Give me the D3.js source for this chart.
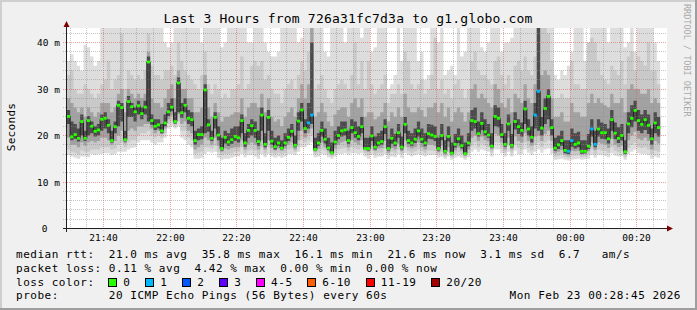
<!DOCTYPE html>
<html><head><meta charset="utf-8">
<script src="https://cdn.jsdelivr.net/npm/d3@7"></script>
<style>
html,body{margin:0;padding:0;background:#f0f0f0;overflow:hidden;}
svg{display:block;}
text{font-family:"DejaVu Sans Mono",monospace;white-space:pre;}
</style></head><body>
<script>
// ---------------- data ----------------
const titleText = "Last 3 Hours from 726a31fc7d3a to g1.globo.com";
const startTime = Date.UTC(2026,1,22,21,28,45);
const endTime   = Date.UTC(2026,1,23,0,28,45);
const firstSample = Date.UTC(2026,1,22,21,29,0);
const stepMs = 60000;
const yTickValues = [0,10,20,30,40];

// median rtt per sample (ms)
const median = [
24.1,19.7,20.2,19.4,23.0,19.4,23.2,22.0,20.9,21.2,
23.5,23.7,22.2,18.9,21.9,26.5,26.0,19.1,27.3,26.2,
25.1,26.4,24.7,26.1,35.8,23.2,22.0,22.3,21.0,22.7,
25.1,26.1,23.0,31.3,24.9,26.5,23.7,23.4,18.9,20.2,
20.2,29.8,22.3,19.4,23.9,20.1,17.2,19.6,18.6,19.1,
19.8,19.5,23.2,18.4,21.1,22.1,21.1,18.7,24.4,18.1,
23.9,18.8,17.6,18.4,17.3,18.4,19.6,20.9,17.9,23.1,
25.5,21.5,22.7,24.4,17.0,18.4,21.1,19.2,17.3,16.3,
18.6,20.0,21.0,21.2,18.9,21.7,20.6,19.8,21.9,17.2,
17.2,19.9,17.5,18.4,18.7,21.9,17.2,19.4,18.4,20.6,
17.5,22.4,18.9,18.4,19.2,21.0,19.2,18.4,20.4,20.1,
19.8,17.2,20.0,16.6,19.8,16.2,18.1,19.3,17.8,16.1,
18.4,23.2,23.0,20.4,22.6,20.8,20.1,17.7,24.1,23.7,
20.2,18.1,22.5,17.9,23.0,21.9,21.1,25.7,21.4,19.6,
24.4,29.5,21.6,25.8,28.4,21.7,17.3,18.0,18.9,16.8,
16.6,18.9,18.1,18.4,16.6,16.6,17.7,21.4,18.1,21.4,
20.6,20.6,19.3,23.4,20.5,19.4,20.0,16.5,22.5,23.7,
25.4,23.2,22.4,23.4,22.2,19.3,22.7,21.7];

// lost pings (of 20) per sample
const lossCount = [
0,0,0,0,0,0,0,0,0,0, 0,0,0,0,0,0,0,0,0,0,
0,0,0,0,0,0,0,0,0,0, 0,0,0,0,0,0,0,0,0,0,
0,0,0,0,0,0,0,0,0,0, 0,0,0,0,0,0,0,0,0,0,
0,0,0,0,0,0,0,0,0,0, 0,0,1,1,0,0,0,0,0,0,
0,0,0,0,0,0,0,0,0,0, 0,0,0,0,0,0,0,0,0,0,
0,0,0,0,0,0,0,0,0,0, 0,0,0,0,0,0,0,0,0,0,
0,0,0,0,0,0,0,0,0,0, 0,0,0,0,0,0,0,0,0,0,
1,1,0,0,0,0,0,0,0,0, 1,1,0,0,0,0,0,1,1,0,
0,0,0,0,0,0,0,0,0,0, 0,0,0,0,0,0,0,0];

// smoke: outer band (min .. max ping), 99 = beyond the top of the graph
const pingMin = [
15.8,15.5,15.2,15.0,15.5,15.5,15.3,16.0,15.8,16.0,
16.0,16.2,16.2,15.8,16.0,16.5,16.5,16.5,17.0,17.3,
17.5,18.5,19.0,19.0,19.0,18.5,18.0,18.5,18.5,19.5,
21.5,22.0,21.5,22.0,19.5,19.0,18.0,17.5,15.0,15.0,
15.2,16.0,16.5,16.3,16.5,15.2,14.8,15.0,15.0,15.2,
15.5,15.5,16.0,15.3,15.8,15.8,15.5,15.0,16.0,15.3,
16.0,15.5,15.2,15.5,15.2,15.5,16.0,16.0,15.8,16.5,
17.5,17.5,18.0,18.5,15.3,15.5,16.0,15.8,15.3,15.0,
15.5,16.0,16.0,16.2,15.8,16.2,16.2,16.0,16.2,15.5,
15.0,15.8,15.2,15.5,15.5,16.0,15.0,15.5,15.3,16.0,
15.2,16.2,15.8,15.5,15.8,16.0,15.8,15.5,15.8,15.8,
15.8,15.2,15.5,15.0,15.5,14.8,15.2,15.5,15.2,14.8,
15.3,16.5,17.0,16.5,17.0,16.8,16.5,15.5,17.0,17.0,
16.2,15.5,16.5,15.5,16.8,16.0,16.0,17.0,16.3,15.8,
16.5,17.0,16.3,17.0,17.2,16.0,14.8,14.9,15.0,14.8,
14.6,14.8,14.9,15.0,14.8,14.9,15.0,15.8,15.2,15.8,
15.8,15.6,15.3,16.2,15.7,15.5,15.6,14.8,16.0,16.5,
17.0,16.2,16.0,16.0,15.8,15.0,15.5,15.2];
const pingMax = [
36,37.5,36,35,34,39.5,39,37,35,36,
99,99,99,99,99,99,99,99,99,99,
99,99,99,99,99,99,99,99,99,40,
39,40,99,99,99,99,99,99,99,99,
40,99,99,99,99,99,39,40,99,99,
99,99,99,99,40,40,99,99,99,40,
38,37,37,38,99,99,99,99,99,40,
41,99,99,99,99,99,99,38,37,99,
99,99,99,40,99,99,99,99,41,99,
99,38,39,99,99,99,30,31,33,99,
36,99,99,99,99,36,38,32,33,99,
99,40,99,33,34,35,33,99,37,38,
99,99,99,99,39,38,40,99,99,99,
38,40,40,41,99,99,99,99,99,99,
99,99,99,99,99,99,33,32,34,33,
35,38,99,99,99,36,40,99,99,99,
99,99,40,99,99,99,99,39,40,99,
38,99,99,99,99,99,40,36];
// second band
const smokeLo2 = [
17,16.5,16.3,16,16.8,16.5,16.5,17,17,17,
17.5,17.5,17.5,17,17.2,18,18.5,17.5,18.5,19,
19,20,20.5,20.5,21,20,19.5,20,19.5,20.5,
22.5,23,22,23,21,21,19.5,19,16,16.3,
16.5,17.5,17.5,17.2,17.8,16.5,15.8,16,16,16.2,
16.5,16.5,17.5,16.2,16.8,17,16.8,16,17.5,16.2,
17.5,16.3,16,16.3,16,16.3,17,17.2,16.5,17.5,
19,18.5,19,20,16,16.3,17,16.8,16,15.5,
16.3,17,17.2,17.3,16.6,17.5,17.2,17,17.5,16.2,
15.8,16.8,16,16.3,16.3,17.2,15.8,16.5,16.2,17,
16,17.5,16.6,16.3,16.6,17,16.6,16.3,16.8,16.8,
16.6,15.9,16.5,15.5,16.5,15.3,16,16.4,16,15.2,
16.2,17.8,18.5,17.5,18.3,17.8,17.5,16.3,18.5,18.5,
17.2,16.3,17.8,16.3,18,17.3,17,18.5,17.3,16.8,
18,18.5,17.5,18.5,19,17.3,15.5,15.7,15.9,15.4,
15.2,15.7,15.7,15.8,15.4,15.5,15.8,17,16,17,
16.8,16.7,16.3,17.5,16.7,16.4,16.6,15.4,17.3,18,
18.5,17.5,17.3,17.5,17,16,16.8,16.5];
const smokeHi2 = [
33,34,30,29,29,31,30,29,28,29,
31,32,36,30,32,33,42,30,34,33,
32,33,32,34,42,35,33,33,32,34,
34,35,33,40,36,34,33,32,31,30,
33,38,31,29,31,30,28,29,28,30,
30,31,37,30,31,35,36,35,36,32,
33,30,29,29,27,30,31,32,30,33,
36,34,38,99,30,31,33,30,28,27,
30,31,32,31,30,33,40,31,36,30,
36,31,29,30,31,33,27,29,29,31,
29,38,36,31,30,31,32,29,30,33,
41,30,32,29,30,28,31,32,30,28,
30,36,38,34,33,33,32,31,36,37,
33,31,33,30,35,36,34,37,34,33,
37,99,99,99,42,36,28,28,29,28,
28,36,31,31,30,30,40,41,40,36,
33,32,31,35,34,33,36,31,37,38,
34,37,36,35,40,34,34,31];
// third band
const smokeLo3 = [
19.5,18,18,17.5,18.5,17.8,18.5,18.8,18.5,18.8,
19.5,19.5,19,18,18.8,20,21,18.3,21,21.5,
21,22,22,22.5,22.5,21.5,20.5,21,20.3,21.5,
23.5,24.3,22.5,24.5,22.5,23,21,20.5,17,17.5,
18,19.5,19,18,19.5,17.8,16.5,17.2,17,17.3,
17.5,17.5,19,17,18,18.5,18,17,19,17,
19,17.3,16.8,17.2,16.7,17.2,18,18.5,17,19,
21,19.5,20.5,21.5,16.5,17.2,18.5,17.5,16.6,15.9,
17.2,18,18.5,18.8,17.5,19,18.5,18,19,16.8,
16.5,17.8,16.7,17.2,17.3,18.8,16.3,17.3,17,18.2,
16.6,19,17.5,17.2,17.5,18.5,17.5,17,18,18,
17.8,16.4,17.8,15.9,17.5,15.7,16.8,17.4,16.7,15.6,
17,19.5,20,18.8,19.8,19,18.7,17,20.3,20,
18.5,17,19.5,17,19.8,18.8,18.5,20.5,18.8,17.8,
19.8,20,18.8,20.3,21,18.8,16.2,16.5,16.9,15.9,
15.7,16.7,16.6,16.8,15.9,16,16.6,18.5,16.9,18.5,
18.2,18,17.3,19.3,18,17.5,17.8,15.9,19,20,
20.8,19.3,19,19.5,18.8,17,18.8,18.3];
const smokeHi3 = [
28,27,26,25,26,24,26,25,24,25,
27,27,27,25,26,29,30,25,30,29,
28,29,28,29,38,28,27,27,26,28,
30,31,28,34,30,30,28,28,25,25,
26,33,26,24,27,25,23,24,24,24.5,
25,25,28,24,26,27,27,26,29,25,
28,24,23,23.5,22,24,25,26,24,28,
31,28,31,99,24,25,27,25,23,22,
24.5,25.5,26,26,24,27,28,26,28,24,
25,25,23.5,24,25,27,23,25,24,26,
24,29,26,25,25,26,25.5,24,26,26,
27,25,27,24,26,23,25,26,25,23,
25,30,31,28,29,28,27,26,31,30,
27,26,28,25,29,28,27,31,28,27,
31,99,33,34,33,28,24,24,25,23,
23,27,25,25,24,24,27,29,27,28,
27,26.5,26,29,27,27,28,25,30,31,
30,30,29,29,30,27,28,27];
// inner (darkest) band
const smokeLo4 = [
22.5,19,19.3,18.7,20,18.8,20,20.5,19.8,20,
21,21.5,20.5,18.5,20.5,22,23,18.7,24,24,
23,24.5,23.5,24.5,23,22.3,21.2,21.5,20.5,22,
24.2,25.2,22.6,25,23.8,25,22.5,22,18,19,
19.2,20.5,20.8,18.8,21.5,19,16.8,18.3,17.8,18.2,
18.8,18.5,20.5,17.6,19.5,20,19.5,17.8,21,17.5,
21,18,17,17.8,17,17.8,18.8,19.8,17.5,21,
23,20.5,21.5,22.5,16.8,17.8,19.8,18.3,16.9,16,
18,19.2,19.8,20,18.2,20.5,19.5,19,20.5,17,
16.8,18.8,17,17.8,18,20.3,16.8,18.2,17.7,19.5,
17,20.5,18.2,17.8,18.4,19.8,18.4,17.7,19.3,19.2,
18.8,16.8,19,16.2,18.7,15.9,17.4,18.4,17.2,15.8,
17.7,21,21.5,19.8,21.2,20,19.5,17.3,22,21.8,
19.5,17.6,21,17.4,21.3,20.3,19.8,22.5,20,18.5,
21.5,21,20,22.5,23.5,20,16.7,17.1,17.8,16.2,
16,17.6,17.2,17.5,16.1,16.2,17.1,19.8,17.5,19.8,
19.3,19.2,18.3,21,19.2,18.4,18.9,16.1,20.5,21.8,
23,21,20.5,21.2,20.3,18,20.5,19.8];
const smokeHi4 = [
25.5,23,22.5,21.5,24.5,21,24.2,23,22,22.5,
24.5,25,23.5,21,23,27.5,27,21,28.5,27,
26,27.5,26,27.5,37,24.5,23.5,23.5,22.5,24.5,
27,28,25,32.5,27,28,25.5,25,21,21.5,
22,31,23.5,21,25,22,19.5,21,20.5,21.5,
22,22,24.5,20.5,22.5,23.5,23,21,26,20.5,
25.5,21,19.5,20,19,20.5,21.5,22.5,20,25,
27,23.5,27,40,19.5,20.5,23,21.5,19.5,18.5,
21,22,23,23,21,23.5,23,22,24,19.5,
19.5,22,19.8,20.5,21,23.5,19.2,21.5,20.3,22.5,
19.8,24,21,20.5,21.5,23,21.5,20.5,22.5,22.3,
22,19.5,22.5,19,22,18.5,20.3,21.5,20,18.5,
20.5,25.5,26,23,25,23.5,22.5,20.5,26.5,26,
22.5,20.5,24.5,20.3,25,23.5,22.8,27.5,23.5,22,
27,99,24,28,30,23.5,19.5,20,21,19,
19,21.5,20.5,20.8,19,19,20.3,23.5,21,23.5,
22.8,22.5,21.5,25.5,22.8,21.8,22.5,19,25,26.5,
27.5,25.5,24.5,25.5,24.5,21.5,25,24];

// legend
const lossLabels = ["0","1","2","3","4-5","6-10","11-19","20/20"];
const lossColors = ["#26ff00","#00b8ff","#0059ff","#5e00ff","#ff00ff","#ff5e00","#ff0000","#a10000"];
const legendLines = [
  "median rtt:  21.0 ms avg  35.8 ms max  16.1 ms min  21.6 ms now  3.1 ms sd  6.7   am/s",
  "packet loss: 0.11 % avg  4.42 % max  0.00 % min  0.00 % now",
  "loss color:",
  "probe:       20 ICMP Echo Pings (56 Bytes) every 60s"
];
const dateText = "Mon Feb 23 00:28:45 2026";

// ---------------- drawing ----------------
const W = 697, H = 310;
const svg = d3.select("body").append("svg").attr("width", W).attr("height", H);

svg.append("rect").attr("width", W).attr("height", H).attr("fill", "#f0f0f0");
svg.append("rect").attr("x",0).attr("y",0).attr("width",W).attr("height",2).attr("fill","#cfcfcf");
svg.append("rect").attr("x",0).attr("y",0).attr("width",2).attr("height",H).attr("fill","#cfcfcf");
svg.append("rect").attr("x",0).attr("y",H-2).attr("width",W).attr("height",2).attr("fill","#9e9e9e");
svg.append("rect").attr("x",W-2).attr("y",0).attr("width",2).attr("height",H).attr("fill","#9e9e9e");

const x = d3.scaleUtc().domain([new Date(startTime), new Date(endTime)]).range([66, 666]);
const y = d3.scaleLinear().domain([0, 40]).range([228.5, 42.5]);
const plotTop = 28, plotBottom = 228.5;
const yMax = y.invert(plotTop);

svg.append("rect").attr("x",67).attr("y",plotTop).attr("width",600).attr("height",200).attr("fill","#ffffff");

const n = median.length;
const times = d3.range(n + 1).map(i => new Date(firstSample + i * stepMs));
const clampV = v => Math.max(0, Math.min(yMax, v));

const bands = [
  {lo: pingMin,  hi: pingMax,  color: "#dddddd"},
  {lo: smokeLo2, hi: smokeHi2, color: "#c9c9c9"},
  {lo: smokeLo3, hi: smokeHi3, color: "#a2a2a2"},
  {lo: smokeLo4, hi: smokeHi4, color: "#4c4c4c"}
];
const area = d3.area().curve(d3.curveStepAfter)
  .x(d => x(d.t)).y0(d => y(clampV(d.lo))).y1(d => y(clampV(d.hi)));
const smokeG = svg.append("g");
bands.forEach(b => {
  const pts = d3.range(n + 1).map(i => {
    const k = Math.min(i, n - 1);
    return {t: times[i], lo: b.lo[k], hi: b.hi[k]};
  });
  smokeG.append("path").attr("d", area(pts)).attr("fill", b.color);
});

// grid
const gridG = svg.append("g");
const fiveMin = d3.utcMinute.every(5).range(new Date(startTime), new Date(endTime));
fiveMin.forEach(t => {
  const major = t.getUTCMinutes() % 20 === 0;
  const xp = Math.floor(x(t)) + 0.5;
  gridG.append("line").attr("x1", xp).attr("x2", xp)
    .attr("y1", plotTop).attr("y2", plotBottom + 2)
    .attr("stroke", major ? "#e06060" : "#8c8c8c")
    .attr("stroke-opacity", major ? 0.6 : 0.5)
    .attr("stroke-dasharray", "1,1");
});
d3.range(2, 44, 2).forEach(v => {
  const major = v % 10 === 0;
  const yp = Math.floor(y(v)) + 0.5;
  gridG.append("line").attr("x1", 63).attr("x2", 667)
    .attr("y1", yp).attr("y2", yp)
    .attr("stroke", major ? "#e06060" : "#8c8c8c")
    .attr("stroke-opacity", major ? 0.6 : 0.5)
    .attr("stroke-dasharray", "1,1");
});

// median line and loss coloured marks
const line = d3.line().curve(d3.curveStepAfter).x(d => x(d.t)).y(d => y(clampV(d.v)));
const medPts = d3.range(n + 1).map(i => ({t: times[i], v: median[Math.min(i, n - 1)]}));
svg.append("path").attr("d", line(medPts)).attr("fill", "none")
  .attr("stroke", "#202020").attr("stroke-width", 1);

function lossColor(c) {
  if (c === 0) return lossColors[0];
  if (c === 1) return lossColors[1];
  if (c === 2) return lossColors[2];
  if (c === 3) return lossColors[3];
  if (c <= 5) return lossColors[4];
  if (c <= 10) return lossColors[5];
  if (c <= 19) return lossColors[6];
  return lossColors[7];
}
svg.append("g").selectAll("rect").data(median).join("rect")
  .attr("x", (d, i) => x(times[i]))
  .attr("width", (d, i) => x(times[i + 1]) - x(times[i]))
  .attr("y", d => y(d) - 1.4)
  .attr("height", 2.8)
  .attr("fill", (d, i) => lossColor(lossCount[i]));

// axes
svg.append("line").attr("x1", 63).attr("x2", 668).attr("y1", 228.5).attr("y2", 228.5)
  .attr("stroke", "#202020");
svg.append("line").attr("x1", 66.5).attr("x2", 66.5).attr("y1", 232).attr("y2", 25)
  .attr("stroke", "#202020");
svg.append("path").attr("d", "M667,225.5 L673,228.5 L667,231.5 Z").attr("fill", "#7f0000");
svg.append("path").attr("d", "M63.5,27 L66.5,21 L69.5,27 Z").attr("fill", "#7f0000");

// x labels
const fmt = d3.utcFormat("%H:%M");
d3.utcMinute.every(20).range(new Date(startTime), new Date(endTime)).forEach(t => {
  svg.append("text").attr("x", Math.floor(x(t)) + 0.5).attr("y", 241)
    .attr("text-anchor", "middle").attr("font-size", "9.5px").attr("fill", "#000")
    .text(fmt(t));
});
// y labels
yTickValues.forEach(v => {
  const t = svg.append("text").attr("y", Math.floor(y(v)) + 0.5 + 3.4)
    .attr("font-size", "9.5px").attr("fill", "#000");
  if (v === 0) t.attr("x", 44.7).attr("text-anchor", "middle").text("0");
  else t.attr("x", 60).attr("text-anchor", "end").text(v + " m");
});

// y title
svg.append("text").attr("transform", "translate(15,127) rotate(-90)")
  .attr("text-anchor", "middle").attr("font-size", "11px").attr("letter-spacing", "0.3px")
  .attr("fill", "#000").text("Seconds");

// title
svg.append("text").attr("x", 348).attr("y", 23).attr("text-anchor", "middle")
  .attr("font-size", "13px").attr("letter-spacing", "0.2px").attr("fill", "#000")
  .text(titleText);

// watermark
svg.append("text").attr("transform", "translate(683.5,4) rotate(90)")
  .attr("font-size", "8.5px").attr("fill", "#aaaaaa")
  .text("RRDTOOL / TOBI OETIKER");

// legend
const legY = [258.3, 271.8, 285.5, 299.3];
legendLines.forEach((s, i) => {
  svg.append("text").attr("x", 16).attr("y", legY[i]).attr("xml:space", "preserve")
    .attr("font-size", "11px").attr("letter-spacing", "0.52px").attr("fill", "#000").text(s);
});
let bx = 108.3;
lossLabels.forEach((lab, i) => {
  const rx = Math.round(bx) + 0.5;
  svg.append("rect").attr("x", rx).attr("y", 278.5).attr("width", 8).attr("height", 8)
    .attr("fill", lossColors[i]).attr("stroke", "#000").attr("stroke-width", 1);
  svg.append("text").attr("x", bx + 15).attr("y", legY[2])
    .attr("font-size", "11px").attr("letter-spacing", "0.52px").attr("fill", "#000").text(lab);
  bx += 15 + lab.length * 7.15 + 14.8;
});
svg.append("text").attr("x", 681).attr("y", legY[3]).attr("text-anchor", "end")
  .attr("font-size", "11px").attr("letter-spacing", "0.52px").attr("fill", "#000").text(dateText);
</script>
</body></html>
